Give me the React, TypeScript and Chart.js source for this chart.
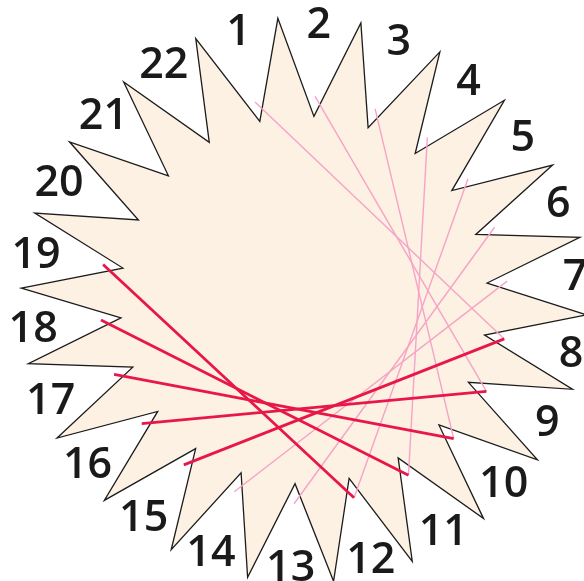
import React, { useEffect, useRef } from 'react';
import { Chart, registerables, RadialLinearScale } from 'chart.js';

// Position labels around the star (one per valley, clockwise)
const POSITION_LABELS = ['1', '2', '3', '4', '5', '6', '7', '8', '9', '10', '11', '12', '13', '14', '15', '16', '17', '18', '19', '20', '21', '22'];

// Angles (degrees clockwise from top) of each labelled valley and of the spike tip that follows it
const VALLEY_ANGLES = [-13.9, 3.1, 20.4, 37.2, 53.5, 69.1, 84.7, 101.0, 116.6, 132.8, 149.2, 165.8, 182.8, 200.0, 216.1, 232.7, 248.6, 264.4, 280.0, 295.8, 312.5, 329.0];
const TIP_ANGLES = [-5.3, 11.6, 28.7, 45.1, 61.5, 77.2, 93.0, 108.4, 124.4, 140.6, 157.5, 174.0, 191.5, 208.0, 224.9, 240.8, 257.0, 272.4, 287.9, 304.0, 320.4, 337.5];

// Star outline radii (scale 0..100)
const VALLEY_VALUES = [61.3, 61.3, 61.3, 61.3, 61.3, 61.3, 61.3, 61.3, 61.3, 61.3, 61.3, 61.3, 61.3, 61.3, 61.3, 61.3, 61.3, 61.3, 61.3, 61.3, 61.3, 61.3];
const TIP_VALUES = [94.3, 94.3, 94.3, 94.3, 94.3, 94.3, 94.3, 94.3, 94.3, 94.3, 94.3, 94.3, 94.3, 94.3, 94.3, 94.3, 94.3, 94.3, 94.3, 94.3, 94.3, 94.3];

// Chord end radius (scale 0..100)
const CHORD_VALUE = 68;

// Chords between positions (from -> to)
const PINK_FROM = [1, 2, 3, 4, 5, 6, 7];
const PINK_TO = [8, 9, 10, 11, 12, 13, 14];
const RED_FROM = [15, 16, 17, 18, 19];
const RED_TO = [8, 9, 10, 11, 12];

const STAR_FILL = '#fdf1e3';
const STAR_BORDER = '#1c1c1c';
const PINK = '#f7a3c6';
const RED = '#e8174a';

// interleaved vertex angles: valley k, tip k, valley k+1, ...
const VERTEX_ANGLES: number[] = [];
VALLEY_ANGLES.forEach((v, k) => {
  VERTEX_ANGLES.push(v);
  VERTEX_ANGLES.push(TIP_ANGLES[k]);
});

class StarRadialScale extends (RadialLinearScale as any) {
  static id = 'starRadial';
  static defaults = (RadialLinearScale as any).defaults;
  static defaultRoutes = (RadialLinearScale as any).defaultRoutes;
  static descriptors = (RadialLinearScale as any).descriptors;
  getIndexAngle(index: number) {
    const deg = VERTEX_ANGLES[index] !== undefined ? VERTEX_ANGLES[index] : 0;
    const tau = Math.PI * 2;
    const rad = (deg * Math.PI) / 180;
    return ((rad % tau) + tau) % tau;
  }
}

Chart.register(...registerables);
Chart.register(StarRadialScale as any);

function chordData(a: number, b: number): (number | null)[] {
  const arr: (number | null)[] = [];
  for (let i = 0; i < POSITION_LABELS.length * 2; i++) arr.push(null);
  arr[(a - 1) * 2] = CHORD_VALUE;
  arr[(b - 1) * 2] = CHORD_VALUE;
  return arr;
}

const labelPlugin = {
  id: 'positionLabels',
  afterDatasetsDraw(chart: any) {
    const scale = chart.scales.r;
    const ctx = chart.ctx;
    ctx.save();
    ctx.font = '600 43px "Open Sans", "Liberation Sans", sans-serif';
    ctx.fillStyle = '#1a1a1a';
    ctx.textAlign = 'center';
    ctx.textBaseline = 'middle';
    const unit = scale.drawingArea / 100;
    POSITION_LABELS.forEach((lab, k) => {
      const a = scale.getIndexAngle(k * 2);
      const s = Math.sin(a);
      const x = scale.xCenter + 90.7 * unit * s;
      const y = scale.yCenter - 3 - 90.7 * unit * Math.cos(a) + 6 * s * s;
      ctx.fillText(lab, x, y);
    });
    ctx.restore();
  },
};

export default function App() {
  const ref = useRef<HTMLCanvasElement | null>(null);

  useEffect(() => {
    const canvas = ref.current;
    if (!canvas) return;

    const labels: string[] = [];
    const starData: number[] = [];
    POSITION_LABELS.forEach((lab, k) => {
      labels.push(lab);
      starData.push(VALLEY_VALUES[k]);
      labels.push('');
      starData.push(TIP_VALUES[k]);
    });

    const datasets: any[] = [];
    RED_FROM.forEach((f, i) => {
      datasets.push({
        data: chordData(f, RED_TO[i]),
        borderColor: RED,
        borderWidth: 2.8,
        fill: false,
        spanGaps: true,
        pointRadius: 0,
        pointHoverRadius: 0,
      });
    });
    PINK_FROM.forEach((f, i) => {
      datasets.push({
        data: chordData(f, PINK_TO[i]),
        borderColor: PINK,
        borderWidth: 1.4,
        fill: false,
        spanGaps: true,
        pointRadius: 0,
        pointHoverRadius: 0,
      });
    });
    datasets.push({
      data: starData,
      borderColor: STAR_BORDER,
      borderWidth: 1.3,
      backgroundColor: STAR_FILL,
      fill: true,
      pointRadius: 0,
      pointHoverRadius: 0,
      borderJoinStyle: 'miter',
    });

    const chart = new Chart(canvas, {
      type: 'radar',
      data: { labels, datasets },
      options: {
        responsive: false,
        animation: false,
        layout: { padding: 0 },
        plugins: {
          legend: { display: false },
          tooltip: { enabled: false },
        },
        scales: {
          r: {
            type: 'starRadial',
            min: 0,
            max: 100,
            ticks: { display: false },
            grid: { display: false },
            angleLines: { display: false },
            pointLabels: { display: false },
          },
        },
      } as any,
      plugins: [labelPlugin],
    });
    return () => chart.destroy();
  }, []);

  return (
    <div style={{ position: 'fixed', left: 0, top: 0, width: 584, height: 581, overflow: 'hidden', background: '#fff' }}>
      <canvas ref={ref} width={600} height={600} style={{ position: 'absolute', left: 4, top: 0, width: 600, height: 600 }} />
    </div>
  );
}
